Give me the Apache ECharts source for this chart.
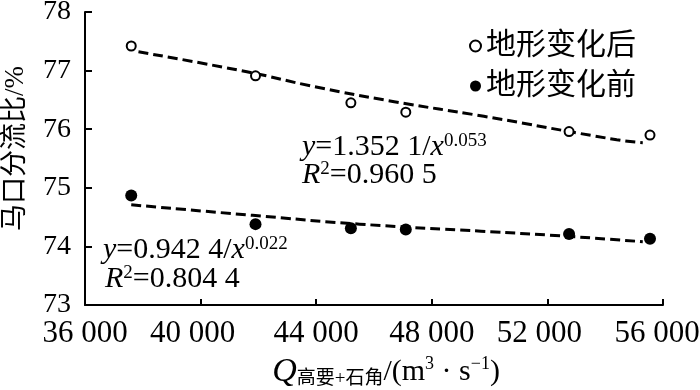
<!DOCTYPE html>
<html><head><meta charset="utf-8">
<script src="https://cdn.jsdelivr.net/npm/echarts@6/dist/echarts.min.js"></script>
<style>html,body{margin:0;padding:0;background:#fff}#c{width:700px;height:390px}</style>
</head><body><div id="c"></div>
<script>
var xTicks = [36000, 40000, 44000, 48000, 52000, 56000];
var yTicks = [73, 74, 75, 76, 77, 78];
var discharge = [37600, 41900, 45200, 47100, 52750, 55550];
var afterRatio = [77.42, 76.91, 76.45, 76.29, 75.96, 75.90];
var beforeRatio = [74.87, 74.38, 74.31, 74.29, 74.21, 74.13];
var afterFitX = [37850, 41600, 44000, 46700, 49800, 54400, 55300];
var afterFitY = [77.32, 76.98, 76.72, 76.47, 76.22, 75.82, 75.77];
var beforeFitX = [37600, 41800, 45500, 49700, 52450, 55300];
var beforeFitY = [74.71, 74.53, 74.38, 74.26, 74.18, 74.08];
var seriesNames = ['地形变化后', '地形变化前'];

var SERIF = "'Liberation Serif', 'Times New Roman', 'Noto Sans CJK SC', serif";
var CJK = "'Liberation Serif', 'Noto Sans CJK SC', serif";
function zip(a, b) { return a.map(function (v, i) { return [v, b[i]]; }); }
function fmt(v) {
  var s = String(v);
  s = s.length > 3 ? s.slice(0, s.length - 3) + ' ' + s.slice(-3) : s;
  if (v === xTicks[xTicks.length - 1]) return '{r|' + s + '}';
  if (v === 40000 || v === 52000) return '{m|' + s + '}';
  return s;
}

var chart = echarts.init(document.getElementById('c'), null, { renderer: 'canvas' });
var richEq = {
  n: { fontFamily: SERIF, fontSize: 30, color: '#000', lineHeight: 30 },
  i: { fontFamily: SERIF, fontSize: 30, fontStyle: 'italic', color: '#000', lineHeight: 30 },
  s: { fontFamily: SERIF, fontSize: 19, color: '#000', verticalAlign: 'top', lineHeight: 19 }
};
chart.setOption({
  animation: false,
  backgroundColor: '#fff',
  grid: { left: 85, right: 37, top: 12, bottom: 85, outerBoundsMode: 'none', containLabel: false },
  legend: {
    data: seriesNames, orient: 'vertical', left: 464, top: 26, itemGap: 10,
    itemWidth: 11, itemHeight: 11,
    textStyle: { fontFamily: CJK, fontSize: 30, color: '#000' }
  },
  xAxis: {
    type: 'value', min: xTicks[0], max: xTicks[xTicks.length - 1], interval: 4000,
    axisLine: { lineStyle: { color: '#000', width: 2 } },
    axisTick: { inside: true, length: 6, lineStyle: { color: '#000', width: 2 } },
    axisLabel: {
      fontFamily: SERIF, fontSize: 31, color: '#000', margin: 13, formatter: fmt,
      rich: {
        r: { fontFamily: SERIF, fontSize: 31, color: '#000', padding: [0, 12, 0, 0] },
        m: { fontFamily: SERIF, fontSize: 31, color: '#000', padding: [0, 16, 0, 0] }
      }
    },
    splitLine: { show: false },
    name: '{q|Q}{sub|高要+石角}{n|/(m}{sup|3}{n| · s}{sup|−1}{n|)}',
    nameLocation: 'middle', nameGap: 50,
    nameTextStyle: {
      padding: [0, 0, 0, 24],
      rich: {
        q: { fontFamily: SERIF, fontSize: 34, fontStyle: 'italic', color: '#000', lineHeight: 34 },
        n: { fontFamily: SERIF, fontSize: 30, color: '#000', lineHeight: 34 },
        sub: { fontFamily: CJK, fontSize: 19, color: '#000', verticalAlign: 'bottom', lineHeight: 22 },
        sup: { fontFamily: SERIF, fontSize: 18, color: '#000', verticalAlign: 'top', lineHeight: 18 }
      }
    }
  },
  yAxis: {
    type: 'value', min: yTicks[0], max: yTicks[yTicks.length - 1], interval: 1,
    axisLine: { show: true, lineStyle: { color: '#000', width: 2 } },
    axisTick: { show: true, inside: true, length: 7, lineStyle: { color: '#000', width: 2 } },
    axisLabel: { fontFamily: SERIF, fontSize: 28, color: '#000', margin: 14 },
    splitLine: { show: false },
    name: '马口分流比/%', nameLocation: 'middle', nameGap: 56, nameRotate: 90,
    nameTextStyle: { fontFamily: CJK, fontSize: 27, color: '#000', padding: [0, 0, 0, 20] }
  },
  series: [
    { name: 'fitAfter', type: 'line', data: zip(afterFitX, afterFitY), smooth: true, showSymbol: false, symbol: 'none',
      lineStyle: { color: '#000', width: 3, type: [10, 5] }, z: 1, silent: true },
    { name: 'fitBefore', type: 'line', data: zip(beforeFitX, beforeFitY), smooth: true, showSymbol: false, symbol: 'none',
      lineStyle: { color: '#000', width: 3, type: [10, 5] }, z: 1, silent: true },
    { name: seriesNames[0], type: 'scatter', data: zip(discharge, afterRatio), symbol: 'circle', symbolSize: 9,
      itemStyle: { color: '#fff', borderColor: '#000', borderWidth: 2, opacity: 1 }, z: 3 },
    { name: seriesNames[1], type: 'scatter', data: zip(discharge, beforeRatio), symbol: 'circle', symbolSize: 12,
      itemStyle: { color: '#000', borderColor: '#000', borderWidth: 0, opacity: 1 }, z: 3 }
  ],
  graphic: [
    { type: 'text', left: 302, top: 132, style: { text: '{i|y}{n|=1.352 1/}{i|x}{s|0.053}', rich: richEq } },
    { type: 'text', left: 302, top: 160, style: { text: '{i|R}{s|2}{n|=0.960 5}', rich: richEq } },
    { type: 'text', left: 103, top: 235, style: { text: '{i|y}{n|=0.942 4/}{i|x}{s|0.022}', rich: richEq } },
    { type: 'text', left: 105, top: 264, style: { text: '{i|R}{s|2}{n|=0.804 4}', rich: richEq } }
  ]
});
</script></body></html>
